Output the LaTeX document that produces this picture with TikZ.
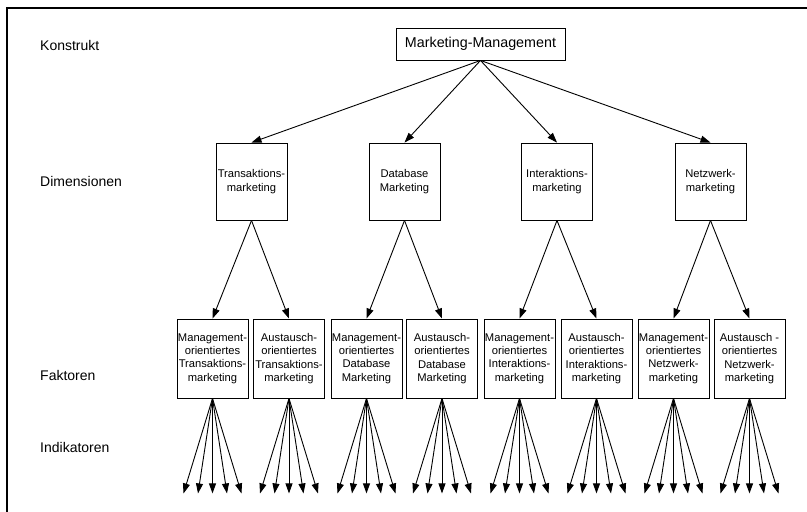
\documentclass[tikz,border=0pt]{standalone}
\usepackage{fontspec}
\setmainfont{Liberation Sans}
\usetikzlibrary{arrows.meta}
\begin{document}
\begin{tikzpicture}[x=1pt,y=-1pt,
  box/.style={draw,line width=0.9pt,inner sep=0pt,align=center,font=\fontsize{11.2}{13.4}\selectfont},
  topbox/.style={draw,line width=0.9pt,inner sep=0pt,minimum width=169pt,minimum height=32pt,font=\fontsize{14.3}{16}\selectfont},
  dimbox/.style={box,minimum width=71pt,minimum height=77pt},
  facbox/.style={box,minimum width=71pt,minimum height=79pt},
  lvl/.style={anchor=west,inner sep=0pt,font=\fontsize{14}{16}\selectfont},
  arr/.style={line width=0.9pt,-{Triangle[length=10pt,width=7pt]}},
  frame/.style={line width=1.4pt}]
\useasboundingbox (0,0) rectangle (807,512);
\coordinate (fa) at (7,512);
\coordinate (fb) at (7,8);
\coordinate (fc) at (807,8);
\draw[frame] (fa) -- (fb) -- (fc);

\node[lvl] (l1) at (40,45) {Konstrukt};
\node[lvl] (l2) at (40,181) {Dimensionen};
\node[lvl] (l3) at (40,375) {Faktoren};
\node[lvl] (l4) at (40,447) {Indikatoren};

\node[topbox] (mm) at (480.5,44) {Marketing-Management};

\node[dimbox] (d1) at (251.5,181.5) {Transaktions-\\marketing};
\node[dimbox] (d2) at (404.5,181.5) {Database\\Marketing};
\node[dimbox] (d3) at (557,181.5) {Interaktions-\\marketing};
\node[dimbox] (d4) at (710.5,181.5) {Netzwerk-\\marketing};

\node[facbox] (f1) at (212.5,358.5) {Management-\\orientiertes\\Transaktions-\\marketing};
\node[facbox] (f2) at (289,358.5) {Austausch-\\orientiertes\\Transaktions-\\marketing};
\node[facbox] (f3) at (366.5,358.5) {Management-\\orientiertes\\Database\\Marketing};
\node[facbox] (f4) at (442,358.5) {Austausch-\\orientiertes\\Database\\Marketing};
\node[facbox] (f5) at (519.5,358.5) {Management-\\orientiertes\\Interaktions-\\marketing};
\node[facbox] (f6) at (596.5,358.5) {Austausch-\\orientiertes\\Interaktions-\\marketing};
\node[facbox] (f7) at (673.5,358.5) {Management-\\orientiertes\\Netzwerk-\\marketing};
\node[facbox] (f8) at (749.5,358.5) {Austausch -\\orientiertes\\Netzwerk-\\marketing};

\foreach \d in {1,...,4} \draw[arr] (mm.south) -- (d\d.north);
\draw[arr] (d1.south) -- (f1.north);
\draw[arr] (d1.south) -- (f2.north);
\draw[arr] (d2.south) -- (f3.north);
\draw[arr] (d2.south) -- (f4.north);
\draw[arr] (d3.south) -- (f5.north);
\draw[arr] (d3.south) -- (f6.north);
\draw[arr] (d4.south) -- (f7.north);
\draw[arr] (d4.south) -- (f8.north);

\foreach \f in {1,...,8} {
  \foreach \k in {-2,...,2} {
    \coordinate (i\f\k) at ([shift={(\k*14.5,95)}]f\f.south);
    \draw[arr] (f\f.south) -- (i\f\k);
  }
}
\end{tikzpicture}
\end{document}
